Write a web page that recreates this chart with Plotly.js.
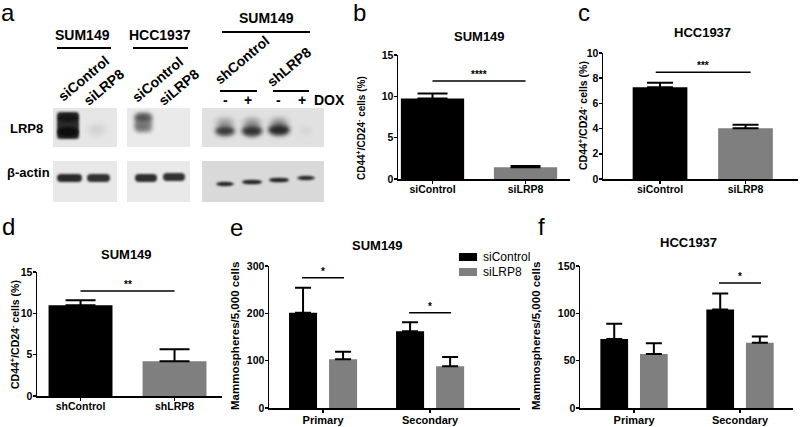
<!DOCTYPE html>
<html><head><meta charset="utf-8">
<script src="https://cdn.plot.ly/plotly-3.0.1.min.js"></script>
<style>html,body{margin:0;padding:0;background:#fff}#chart{width:800px;height:427px}</style>
</head><body><div id="chart"></div>
<script>
// ---------------- data ----------------
const catsB = ['siControl', 'siLRP8'];
const valsB = [9.75, 1.41];
const errB = [0.6, 0.16];
const catsC = ['siControl', 'siLRP8'];
const valsC = [7.28, 4.02];
const errC = [0.36, 0.29];
const catsD = ['shControl', 'shLRP8'];
const valsD = [10.97, 4.2];
const errD = [0.6, 1.45];
const catsEF = ['Primary', 'Secondary'];
const seriesNames = ['siControl', 'siLRP8'];
const eCtrl = [201, 162];
const eCtrlErr = [53, 19];
const eLrp = [103, 88];
const eLrpErr = [16, 20];
const fCtrl = [73, 104];
const fCtrlErr = [16, 17];
const fLrp = [57, 69];
const fLrpErr = [11.5, 6.5];
// significance brackets (axis suffix, x from, x to, level, label)
const sigAxis = ['', '2', '3', '4', '4', '5'];
const sigX0 = [0, -0.05, 0, -0.196, 0.804, 0.802];
const sigX1 = [1, 1.06, 1, 0.196, 1.196, 1.198];
const sigY = [11.85, 8.47, 12.7, 275, 201, 132];
const sigText = ['****', '***', '**', '*', '*', '*'];

// ---------------- style ----------------
const FONT = 'Liberation Sans, Arial, Helvetica, sans-serif';
const BLACK = '#000000';
const GRAY = '#7f7f7f';
const W = 800, H = 427;
const px = v => v / W;
const py = v => 1 - v / H;

function errBar(arr, w) {
  return {type: 'data', symmetric: false, array: arr, arrayminus: arr.map(() => 0),
          color: '#000', thickness: 2, width: w};
}
function xAxis(l, r, range, size, anchor, standoff) {
  return {domain: [px(l), px(r)], range: range, type: 'category', anchor: anchor,
    showline: true, linecolor: '#000', linewidth: 1.5, ticks: 'outside', ticklen: 3,
    tickwidth: 1.5, tickcolor: '#000', showgrid: false, zeroline: false, fixedrange: true,
    ticklabelstandoff: standoff,
    tickfont: {family: FONT, size: size, color: '#000', weight: 'bold'}};
}
function yAxis(top, bot, range, dtick, anchor) {
  return {domain: [py(bot), py(top)], range: range, anchor: anchor, tickmode: 'linear',
    tick0: 0, dtick: dtick, showline: true, linecolor: '#000', linewidth: 1.5,
    ticks: 'outside', ticklen: 3, tickwidth: 1.5, tickcolor: '#000', showgrid: false,
    zeroline: false, fixedrange: true, ticklabelstandoff: -2,
    tickfont: {family: FONT, size: 10.5, color: '#000', weight: 'bold'}};
}

const traces = [
  {type: 'bar', x: catsB, y: valsB, xaxis: 'x', yaxis: 'y', width: 0.68,
   marker: {color: [BLACK, GRAY]}, error_y: errBar(errB, 15), showlegend: false},
  {type: 'bar', x: catsC, y: valsC, xaxis: 'x2', yaxis: 'y2', width: 0.64,
   marker: {color: [BLACK, GRAY]}, error_y: errBar(errC, 13), showlegend: false},
  {type: 'bar', x: catsD, y: valsD, xaxis: 'x3', yaxis: 'y3', width: 0.68,
   marker: {color: [BLACK, GRAY]}, error_y: errBar(errD, 15), showlegend: false},
  {type: 'bar', name: seriesNames[0], x: catsEF, y: eCtrl, xaxis: 'x4', yaxis: 'y4',
   marker: {color: BLACK}, error_y: errBar(eCtrlErr, 8), showlegend: false},
  {type: 'bar', name: seriesNames[1], x: catsEF, y: eLrp, xaxis: 'x4', yaxis: 'y4',
   marker: {color: GRAY}, error_y: errBar(eLrpErr, 8), showlegend: false},
  {type: 'bar', name: seriesNames[0], x: catsEF, y: fCtrl, xaxis: 'x5', yaxis: 'y5',
   marker: {color: BLACK}, error_y: errBar(fCtrlErr, 8), showlegend: false},
  {type: 'bar', name: seriesNames[1], x: catsEF, y: fLrp, xaxis: 'x5', yaxis: 'y5',
   marker: {color: GRAY}, error_y: errBar(fLrpErr, 8), showlegend: false}
];

// ---------------- annotations ----------------
const ann = [];
function txt(x, y, text, size, opts) {
  ann.push(Object.assign({xref: 'paper', yref: 'paper', x: px(x), y: py(y), text: text,
    showarrow: false, xanchor: 'center', yanchor: 'middle',
    font: {family: FONT, size: size, color: '#000', weight: 'bold'}}, opts || {}));
}
// panel letters
[['a', 8, 12], ['b', 359, 12], ['c', 584, 12], ['d', 8, 226], ['e', 236, 227], ['f', 541, 226]]
  .forEach(l => txt(l[1], l[2], l[0], 24, {font: {family: FONT, size: 24, color: '#000'}}));
// panel titles
txt(479, 37, 'SUM149', 13);
txt(702, 33, 'HCC1937', 13);
txt(126, 254, 'SUM149', 13);
txt(377, 245, 'SUM149', 13);
txt(688, 243, 'HCC1937', 13);
// y titles
const cdLab = 'CD44<sup>+</sup>/CD24<sup>-</sup> cells (%)';
txt(361, 128, cdLab, 10, {textangle: -90});
txt(582, 116, cdLab, 10.5, {textangle: -90});
txt(14, 335, cdLab, 10.5, {textangle: -90});
txt(235, 336, 'Mammospheres/5,000 cells', 11.5, {textangle: -90});
txt(536, 336, 'Mammospheres/5,000 cells', 11.5, {textangle: -90});
// legend (panel e)
txt(481, 257, seriesNames[0], 12, {xanchor: 'left', font: {family: FONT, size: 12, color: '#000'}});
txt(481, 272, seriesNames[1], 12, {xanchor: 'left', font: {family: FONT, size: 12, color: '#000'}});
// western blot labels
txt(82, 35, 'SUM149', 14);
txt(160, 35, 'HCC1937', 14);
txt(266, 18, 'SUM149', 14);
txt(83, 79, 'siControl', 14, {textangle: -40});
txt(104, 87, 'siLRP8', 14, {textangle: -40});
txt(157, 80, 'siControl', 14, {textangle: -40});
txt(179, 87, 'siLRP8', 14, {textangle: -40});
txt(242, 60, 'shControl', 14, {textangle: -40});
txt(289, 67, 'shLRP8', 14, {textangle: -40});
txt(225, 100, '-', 14); txt(248, 100, '+', 14);
txt(278, 100, '-', 14); txt(302, 100, '+', 14);
txt(329, 100, 'DOX', 14);
txt(26, 128, 'LRP8', 13);
txt(28, 172, 'β-actin', 13);

// significance labels
const shapes = [];
for (let i = 0; i < sigY.length; i++) {
  const xr = 'x' + sigAxis[i], yr = 'y' + sigAxis[i];
  shapes.push({type: 'line', xref: xr, yref: yr, x0: sigX0[i], x1: sigX1[i], y0: sigY[i], y1: sigY[i],
    line: {color: '#000', width: 1.5}});
  ann.push({xref: xr, yref: yr, x: (sigX0[i] + sigX1[i]) / 2, y: sigY[i], text: sigText[i],
    showarrow: false, xanchor: 'center', yanchor: 'bottom', yshift: -1,
    font: {family: FONT, size: 10, color: '#000', weight: 'bold'}});
}
// legend swatches
shapes.push({type: 'rect', xref: 'paper', yref: 'paper', x0: px(459), x1: px(477), y0: py(261), y1: py(253),
  fillcolor: BLACK, line: {width: 0}});
shapes.push({type: 'rect', xref: 'paper', yref: 'paper', x0: px(459), x1: px(477), y0: py(276), y1: py(268),
  fillcolor: GRAY, line: {width: 0}});
// blot label underlines
[[57, 111, 48], [133, 188, 48], [222, 310, 32], [220, 257, 91], [273, 309, 91]].forEach(u =>
  shapes.push({type: 'line', xref: 'paper', yref: 'paper', x0: px(u[0]), x1: px(u[1]), y0: py(u[2]), y1: py(u[2]),
    line: {color: '#000', width: 2}}));

// ---------------- western blot picture ----------------
const blot = `<svg xmlns="http://www.w3.org/2000/svg" width="800" height="427" viewBox="0 0 800 427">
<defs>
<filter id="f1" x="-50%" y="-100%" width="200%" height="300%"><feGaussianBlur stdDeviation="1.1"/></filter>
<filter id="f2" x="-50%" y="-100%" width="200%" height="300%"><feGaussianBlur stdDeviation="2"/></filter>
<filter id="f3" x="-50%" y="-100%" width="200%" height="300%"><feGaussianBlur stdDeviation="3"/></filter>
</defs>
<rect x="53" y="108" width="64" height="39" fill="#e6e6e6"/>
<rect x="57" y="112" width="22" height="27" rx="3" fill="#2c2c2c" filter="url(#f1)"/>
<ellipse cx="68" cy="118" rx="10" ry="4" fill="#151515" filter="url(#f1)"/>
<ellipse cx="68" cy="132" rx="10.5" ry="5" fill="#0c0c0c" filter="url(#f1)"/>
<ellipse cx="97" cy="130" rx="9" ry="5" fill="#cfcfcf" filter="url(#f3)"/>
<rect x="53" y="161" width="64" height="41" fill="#e8e8e8"/>
<rect x="57" y="174" width="25" height="8" rx="4" fill="#2a2a2a" filter="url(#f1)"/>
<rect x="87" y="174" width="23" height="8" rx="4" fill="#333" filter="url(#f1)"/>
<rect x="127" y="108" width="63" height="39" fill="#eaeaea"/>
<rect x="135" y="113" width="17" height="19" rx="4" fill="#8a8a8a" filter="url(#f2)"/>
<ellipse cx="143" cy="118" rx="8" ry="4" fill="#505050" filter="url(#f2)"/>
<ellipse cx="142" cy="126" rx="7" ry="3.5" fill="#707070" filter="url(#f2)"/>
<rect x="127" y="161" width="63" height="41" fill="#e9e9e9"/>
<rect x="135" y="174" width="22" height="8" rx="4" fill="#2d2d2d" filter="url(#f1)"/>
<rect x="163" y="173" width="22" height="8" rx="4" fill="#333" filter="url(#f1)"/>
<rect x="202" y="108" width="122" height="39" fill="#e1e1e1"/>
<ellipse cx="225" cy="123" rx="9" ry="4" fill="#8a8a8a" filter="url(#f3)"/>
<ellipse cx="225" cy="131" rx="10" ry="5" fill="#383838" filter="url(#f2)"/>
<ellipse cx="252" cy="123" rx="9" ry="4" fill="#808080" filter="url(#f3)"/>
<ellipse cx="252" cy="131" rx="10.5" ry="5.5" fill="#303030" filter="url(#f2)"/>
<ellipse cx="279" cy="123" rx="9" ry="4" fill="#7a7a7a" filter="url(#f3)"/>
<ellipse cx="279" cy="130" rx="11" ry="5.5" fill="#262626" filter="url(#f2)"/>
<ellipse cx="306" cy="131" rx="6" ry="3" fill="#cdcdcd" filter="url(#f3)"/>
<rect x="202" y="161" width="122" height="41" fill="#d9d9d9"/>
<ellipse cx="225" cy="184" rx="9" ry="2.2" fill="#222" filter="url(#f1)"/>
<ellipse cx="252" cy="182" rx="10" ry="2.3" fill="#222" filter="url(#f1)"/>
<ellipse cx="279" cy="180" rx="10" ry="2.3" fill="#222" filter="url(#f1)"/>
<ellipse cx="306" cy="178" rx="9" ry="2.2" fill="#262626" filter="url(#f1)"/>
</svg>`;

const layout = {
  width: W, height: H, autosize: false,
  margin: {l: 0, r: 0, t: 0, b: 0, pad: 0},
  paper_bgcolor: '#ffffff', plot_bgcolor: 'rgba(0,0,0,0)',
  barmode: 'group', bargap: 0.252, bargroupgap: 0.30,
  showlegend: false,
  font: {family: FONT, color: '#000'},
  xaxis: xAxis(398, 570, [-0.371, 1.478], 10.5, 'y', -3),
  yaxis: yAxis(55, 179, [0, 15], 5, 'x'),
  xaxis2: xAxis(603, 798, [-0.667, 1.614], 10.5, 'y2', -3),
  yaxis2: yAxis(53, 179, [0, 10], 2, 'x2'),
  xaxis3: xAxis(37, 222, [-0.463, 1.505], 10.5, 'y3', -3),
  yaxis3: yAxis(272, 396, [0, 15], 5, 'x3'),
  xaxis4: xAxis(269, 520, [-0.505, 1.84], 11, 'y4', -2),
  yaxis4: yAxis(266, 408, [0, 300], 100, 'x4'),
  xaxis5: xAxis(580, 793, [-0.51, 1.5], 11, 'y5', -2),
  yaxis5: yAxis(266, 408, [0, 150], 50, 'x5'),
  annotations: ann,
  shapes: shapes,
  images: [{source: 'data:image/svg+xml;charset=utf-8,' + encodeURIComponent(blot),
    xref: 'paper', yref: 'paper', x: 0, y: 1, sizex: 1, sizey: 1, sizing: 'stretch',
    xanchor: 'left', yanchor: 'top', layer: 'below'}]
};

Plotly.newPlot('chart', traces, layout, {displayModeBar: false, staticPlot: true});
</script></body></html>
